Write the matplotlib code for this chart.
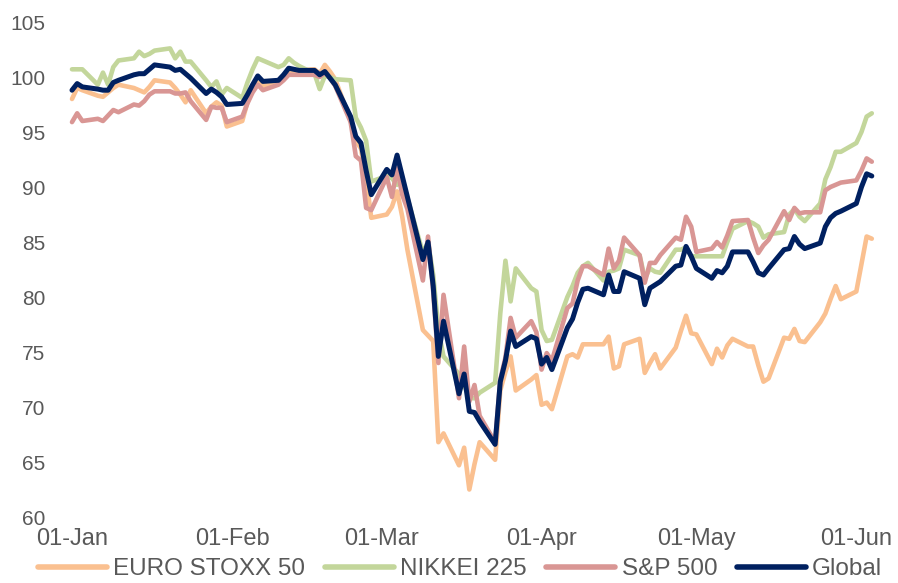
import matplotlib
matplotlib.use("Agg")
import matplotlib.pyplot as plt
import matplotlib.dates as mdates
import pandas as pd

# Business days from 01-Jan-2020 to 04-Jun-2020
dates = pd.bdate_range("2020-01-01", "2020-06-04")

euro_stoxx = [
    98.0, 99.0, 98.8, 98.3, 98.2, 98.6, 99.0, 99.3, 99.0, 98.8, 98.6, 99.1, 99.7, 99.5, 99.0, 98.4, 97.7, 98.8, 96.7, 97.3, 97.7, 97.4, 95.5,
    96.0, 97.7, 99.2, 99.5, 99.2, 99.5, 100.0, 100.5, 100.4, 100.6, 100.7, 100.3, 101.1, 100.5, 99.8, 96.0, 94.2, 93.5, 90.8, 87.2,
    87.5, 88.2, 89.6, 87.3, 84.3, 77.0, 76.5, 76.0, 66.8, 67.6, 64.7, 66.3, 62.5, 64.8, 66.8, 65.2, 71.5, 73.2, 74.6, 71.5, 72.5, 72.9,
    70.2, 70.4, 69.8, 74.6, 74.8, 74.5, 75.7, 75.7, 75.7, 76.4, 73.5, 73.7, 75.7, 76.2, 73.1, 74.0, 74.8, 73.5, 75.4, 76.9, 78.3, 76.7,
    76.6, 73.9, 75.3, 74.5, 75.6, 76.2, 75.5, 75.5, 73.8, 72.3, 72.6, 76.3, 76.2, 77.1, 76.0, 75.9, 77.7, 78.5, 79.8, 81.0, 79.8,
    80.5, 83.0, 85.5, 85.3,
]
nikkei = [
    100.7, 100.7, 100.7, 99.3, 100.4, 99.3, 100.9, 101.5, 101.7, 102.3, 101.9, 102.1, 102.4, 102.6, 101.7, 102.3, 101.4, 101.4, 99.7, 99.1, 99.6, 98.4, 99.0,
    98.1, 99.5, 100.7, 101.7, 101.5, 100.9, 101.1, 101.7, 101.3, 101.0, 100.3, 98.9, 100.1, 100.0, 99.8, 99.7, 96.3, 95.4, 94.2, 90.5,
    91.0, 90.8, 90.2, 90.6, 89.0, 84.0, 85.0, 82.0, 77.0, 74.6, 73.0, 72.0, 70.8, 70.8, 71.3, 72.2, 78.5, 83.3, 79.6, 82.6, 80.8, 80.5,
    77.0, 76.0, 76.1, 80.0, 81.0, 82.2, 82.8, 83.1, 81.5, 82.3, 82.4, 82.6, 84.3, 83.8, 81.7, 82.6, 82.3, 82.2, 84.3, 84.3, 84.5, 83.7,
    83.7, 83.7, 83.7, 83.7, 85.0, 86.2, 86.9, 86.7, 86.4, 85.4, 85.7, 85.9, 87.5, 88.0, 87.3, 86.9, 88.5, 90.7, 91.8, 93.2, 93.2,
    94.0, 95.0, 96.4, 96.7,
]
sp500 = [
    95.9, 96.7, 96.0, 96.2, 96.0, 96.5, 97.0, 96.8, 97.5, 97.4, 97.8, 98.4, 98.7, 98.7, 98.5, 98.5, 98.6, 97.8, 96.1, 97.3, 97.2, 97.2, 95.9,
    96.4, 97.6, 98.6, 99.3, 98.8, 99.3, 99.7, 100.2, 100.2, 100.2, 100.2, 100.0, 100.4, 99.9, 99.2, 95.9, 92.8, 92.4, 88.1, 87.9,
    90.9, 89.1, 91.7, 89.3, 88.0, 81.5, 85.5, 80.5, 74.0, 80.2, 70.8, 75.5, 70.5, 72.0, 69.2, 66.8, 72.5, 74.5, 78.1, 76.3, 77.8, 76.8,
    73.4, 74.9, 74.2, 79.0, 79.4, 81.5, 82.8, 82.8, 82.0, 84.4, 82.6, 83.3, 85.4, 83.8, 81.3, 83.1, 83.1, 83.8, 85.4, 85.2, 87.3, 86.4,
    84.1, 84.4, 85.0, 84.5, 85.6, 86.9, 87.0, 85.4, 84.0, 84.7, 85.2, 87.8, 87.0, 88.1, 87.6, 87.7, 87.7, 89.7, 90.0, 90.2, 90.4,
    90.6, 91.5, 92.6, 92.3,
]
global_idx = [
    98.8, 99.4, 99.1, 98.9, 98.8, 98.8, 99.5, 99.7, 100.2, 100.3, 100.3, 100.7, 101.1, 100.9, 100.6, 100.7, 100.3, 99.9, 98.5, 98.9, 98.6, 98.2, 97.5,
    97.6, 98.4, 99.3, 100.1, 99.6, 99.7, 100.2, 100.8, 100.7, 100.6, 100.6, 100.2, 100.5, 99.9, 99.3, 96.4, 94.6, 94.0, 91.5, 89.3,
    91.6, 91.1, 92.9, 91.0, 89.1, 83.4, 85.0, 81.0, 74.6, 77.8, 71.2, 73.0, 69.6, 69.5, 68.7, 66.6, 72.3, 74.2, 76.9, 75.5, 76.4, 76.2,
    73.9, 74.5, 73.4, 77.2, 78.0, 79.5, 80.7, 80.8, 80.2, 82.0, 80.5, 80.5, 82.3, 81.7, 79.3, 80.8, 81.1, 81.4, 82.8, 82.9, 84.6, 83.7,
    82.6, 81.7, 82.4, 82.2, 82.8, 84.1, 84.1, 83.2, 82.2, 82.0, 82.6, 84.3, 84.4, 85.5, 84.8, 84.4, 84.9, 86.4, 87.2, 87.6, 87.8,
    88.5, 90.0, 91.2, 91.0,
]

series_names = ["EURO STOXX 50", "NIKKEI 225", "S&P 500", "Global"]
series_values = [euro_stoxx, nikkei, sp500, global_idx]
colors = ["#FAC090", "#C3D69B", "#D99694", "#002060"]
widths = [3.3, 3.3, 3.3, 3.6]

y_ticks = [60, 65, 70, 75, 80, 85, 90, 95, 100, 105]
x_ticks = ["2020-01-01", "2020-02-01", "2020-03-01", "2020-04-01", "2020-05-01", "2020-06-01"]

plt.rcParams["font.family"] = ["Liberation Sans", "DejaVu Sans"]
text_color = "#595959"

W, H = 898, 583
fig = plt.figure(figsize=(W / 100, H / 100), dpi=100)
left_px, right_px, top_px, bottom_px = 55, 885, 22, 517
ax = fig.add_axes([left_px / W, (H - bottom_px) / H, (right_px - left_px) / W, (bottom_px - top_px) / H])

for name, vals, c, lw in zip(series_names, series_values, colors, widths):
    ax.plot(dates, vals, color=c, lw=lw, label=name,
            solid_joinstyle="round", solid_capstyle="round")

start = pd.Timestamp("2020-01-01")
px_per_day = 5.16
ax.set_xlim(mdates.date2num(start) - (72 - left_px) / px_per_day,
            mdates.date2num(start) + (right_px - 72) / px_per_day)
ax.set_ylim(60, 105)
ax.set_yticks(y_ticks)
ax.set_xticks([pd.Timestamp(t) for t in x_ticks])
ax.xaxis.set_major_formatter(mdates.DateFormatter("%d-%b"))

for s in ax.spines.values():
    s.set_visible(False)
ax.tick_params(axis="both", length=0, colors=text_color)
ax.tick_params(axis="y", labelsize=15, pad=7)
ax.tick_params(axis="x", labelsize=17, pad=8)

leg = fig.legend(loc="center", bbox_to_anchor=(460 / W, (H - 569) / H), ncol=4,
                 frameon=False, fontsize=17.5, handlelength=2.84,
                 handletextpad=0.25, columnspacing=0.82, borderaxespad=0,
                 borderpad=0)
for t in leg.get_texts():
    t.set_color(text_color)
for line in leg.get_lines():
    line.set_linewidth(4.0)
    line.set_solid_capstyle("round")

fig.savefig("out.png", dpi=100)
